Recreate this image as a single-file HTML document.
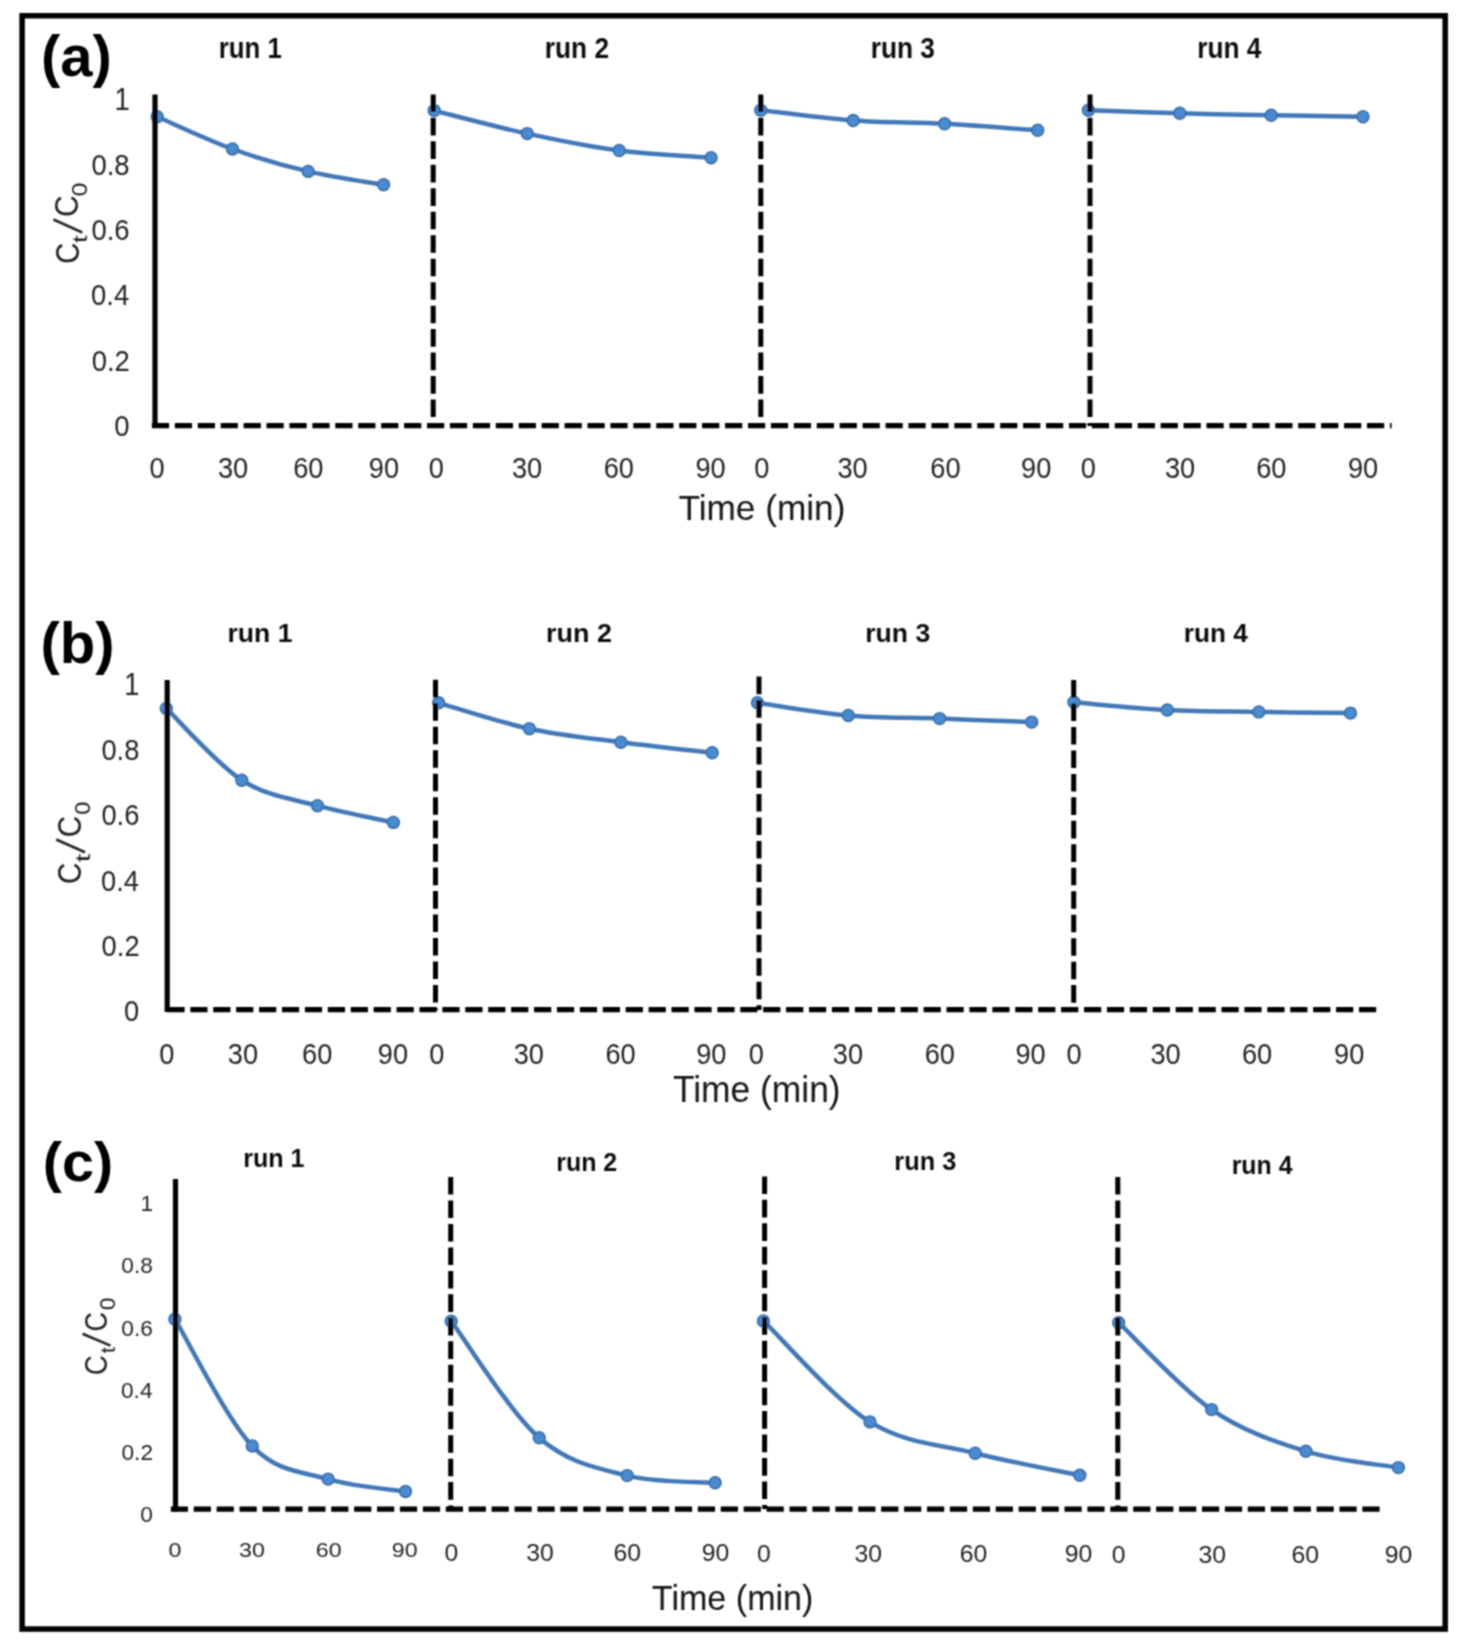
<!DOCTYPE html>
<html><head><meta charset="utf-8"><title>Figure</title>
<style>
html,body{margin:0;padding:0;background:#fff;}
svg{display:block;}
#w{width:1462px;height:1647px;}
text{font-family:"Liberation Sans", sans-serif;}
</style></head>
<body>
<div id="w">
<svg width="1462" height="1647" viewBox="0 0 1462 1647">
<defs><filter id="bl" x="0" y="0" width="1462" height="1647" filterUnits="userSpaceOnUse"><feConvolveMatrix order="3" kernelMatrix="1 2 1 2 4 2 1 2 1" divisor="16" edgeMode="duplicate" preserveAlpha="false"/></filter></defs>
<rect x="0" y="0" width="1462" height="1647" fill="#fff"/>
<g filter="url(#bl)">
<rect x="22.1" y="15.75" width="1423.1" height="1613.3" fill="none" stroke="#000" stroke-width="5.5"/>
<path d="M157.20,116.80 C169.75,122.17 207.33,139.90 232.50,149.00 C257.67,158.10 283.02,165.43 308.20,171.40 C333.38,177.37 371.03,182.57 383.60,184.80" fill="none" stroke="#4278b8" stroke-width="4.5" stroke-linecap="round" stroke-linejoin="round"/>
<circle cx="157.2" cy="116.8" r="5.9" fill="#4a8bd2" stroke="#3b6ea8" stroke-width="1.6"/>
<circle cx="232.5" cy="149" r="5.9" fill="#4a8bd2" stroke="#3b6ea8" stroke-width="1.6"/>
<circle cx="308.2" cy="171.4" r="5.9" fill="#4a8bd2" stroke="#3b6ea8" stroke-width="1.6"/>
<circle cx="383.6" cy="184.8" r="5.9" fill="#4a8bd2" stroke="#3b6ea8" stroke-width="1.6"/>
<path d="M434.20,110.60 C449.70,114.43 496.37,126.95 527.20,133.60 C558.03,140.25 588.55,146.48 619.20,150.50 C649.85,154.52 695.78,156.50 711.10,157.70" fill="none" stroke="#4278b8" stroke-width="4.5" stroke-linecap="round" stroke-linejoin="round"/>
<circle cx="434.2" cy="110.6" r="5.9" fill="#4a8bd2" stroke="#3b6ea8" stroke-width="1.6"/>
<circle cx="527.2" cy="133.6" r="5.9" fill="#4a8bd2" stroke="#3b6ea8" stroke-width="1.6"/>
<circle cx="619.2" cy="150.5" r="5.9" fill="#4a8bd2" stroke="#3b6ea8" stroke-width="1.6"/>
<circle cx="711.1" cy="157.7" r="5.9" fill="#4a8bd2" stroke="#3b6ea8" stroke-width="1.6"/>
<path d="M760.80,110.20 C776.20,111.92 822.57,118.23 853.20,120.50 C883.83,122.77 913.85,122.17 944.60,123.80 C975.35,125.43 1022.18,129.22 1037.70,130.30" fill="none" stroke="#4278b8" stroke-width="4.5" stroke-linecap="round" stroke-linejoin="round"/>
<circle cx="760.8" cy="110.2" r="5.9" fill="#4a8bd2" stroke="#3b6ea8" stroke-width="1.6"/>
<circle cx="853.2" cy="120.5" r="5.9" fill="#4a8bd2" stroke="#3b6ea8" stroke-width="1.6"/>
<circle cx="944.6" cy="123.8" r="5.9" fill="#4a8bd2" stroke="#3b6ea8" stroke-width="1.6"/>
<circle cx="1037.7" cy="130.3" r="5.9" fill="#4a8bd2" stroke="#3b6ea8" stroke-width="1.6"/>
<path d="M1088.40,110.20 C1103.63,110.72 1149.33,112.45 1179.80,113.30 C1210.27,114.15 1240.67,114.73 1271.20,115.30 C1301.73,115.87 1347.70,116.47 1363.00,116.70" fill="none" stroke="#4278b8" stroke-width="4.5" stroke-linecap="round" stroke-linejoin="round"/>
<circle cx="1088.4" cy="110.2" r="5.9" fill="#4a8bd2" stroke="#3b6ea8" stroke-width="1.6"/>
<circle cx="1179.8" cy="113.3" r="5.9" fill="#4a8bd2" stroke="#3b6ea8" stroke-width="1.6"/>
<circle cx="1271.2" cy="115.3" r="5.9" fill="#4a8bd2" stroke="#3b6ea8" stroke-width="1.6"/>
<circle cx="1363" cy="116.7" r="5.9" fill="#4a8bd2" stroke="#3b6ea8" stroke-width="1.6"/>
<line x1="155" y1="94.5" x2="155" y2="428" stroke="#000" stroke-width="5.2"/>
<line x1="151.9" y1="425.6" x2="1391.6" y2="425.6" stroke="#000" stroke-width="5.2" stroke-dasharray="17.2 5.726"/>
<line x1="433.2" y1="94.4" x2="433.2" y2="426" stroke="#000" stroke-width="5" stroke-dasharray="17.6 5.87"/>
<line x1="760.8" y1="94.4" x2="760.8" y2="426" stroke="#000" stroke-width="5" stroke-dasharray="17.6 5.87"/>
<line x1="1090" y1="94.4" x2="1090" y2="426" stroke="#000" stroke-width="5" stroke-dasharray="17.6 5.87"/>
<text font-size="100" font-weight="bold" fill="#000" transform="matrix(0.58085,0,0,0.56836,40.90,76.21)">(a)</text>
<text font-size="100" fill="#252525" transform="matrix(0.27500,0,0,0.30545,114.54,109.50)">1</text>
<text font-size="100" fill="#252525" transform="matrix(0.27500,0,0,0.29682,91.44,174.60)">0.8</text>
<text font-size="100" fill="#252525" transform="matrix(0.27500,0,0,0.29682,91.44,240.00)">0.6</text>
<text font-size="100" fill="#252525" transform="matrix(0.27500,0,0,0.29682,91.03,305.40)">0.4</text>
<text font-size="100" fill="#252525" transform="matrix(0.27500,0,0,0.29682,91.65,370.80)">0.2</text>
<text font-size="100" fill="#252525" transform="matrix(0.27500,0,0,0.29682,114.27,436.20)">0</text>
<text font-size="100" fill="#252525" transform="matrix(0.27200,0,0,0.29823,149.42,477.50)">0</text>
<text font-size="100" fill="#252525" transform="matrix(0.27200,0,0,0.29823,217.90,477.50)">30</text>
<text font-size="100" fill="#252525" transform="matrix(0.27200,0,0,0.29823,293.23,477.50)">60</text>
<text font-size="100" fill="#252525" transform="matrix(0.27200,0,0,0.29823,368.77,477.50)">90</text>
<text font-size="100" fill="#252525" transform="matrix(0.27200,0,0,0.29823,428.72,477.50)">0</text>
<text font-size="100" fill="#252525" transform="matrix(0.27200,0,0,0.29823,511.90,477.50)">30</text>
<text font-size="100" fill="#252525" transform="matrix(0.27200,0,0,0.29823,603.73,477.50)">60</text>
<text font-size="100" fill="#252525" transform="matrix(0.27200,0,0,0.29823,695.47,477.50)">90</text>
<text font-size="100" fill="#252525" transform="matrix(0.27200,0,0,0.29823,754.32,477.50)">0</text>
<text font-size="100" fill="#252525" transform="matrix(0.27200,0,0,0.29823,837.50,477.50)">30</text>
<text font-size="100" fill="#252525" transform="matrix(0.27200,0,0,0.29823,930.33,477.50)">60</text>
<text font-size="100" fill="#252525" transform="matrix(0.27200,0,0,0.29823,1021.07,477.50)">90</text>
<text font-size="100" fill="#252525" transform="matrix(0.27200,0,0,0.29823,1080.72,477.50)">0</text>
<text font-size="100" fill="#252525" transform="matrix(0.27200,0,0,0.29823,1164.90,477.50)">30</text>
<text font-size="100" fill="#252525" transform="matrix(0.27200,0,0,0.29823,1256.23,477.50)">60</text>
<text font-size="100" fill="#252525" transform="matrix(0.27200,0,0,0.29823,1347.97,477.50)">90</text>
<text font-size="100" font-weight="bold" fill="#111" transform="matrix(0.25802,0,0,0.28961,218.72,57.61)">run 1</text>
<text font-size="100" font-weight="bold" fill="#111" transform="matrix(0.26325,0,0,0.29117,544.69,57.61)">run 2</text>
<text font-size="100" font-weight="bold" fill="#111" transform="matrix(0.26269,0,0,0.29014,870.69,57.54)">run 3</text>
<text font-size="100" font-weight="bold" fill="#111" transform="matrix(0.26232,0,0,0.29247,1197.29,57.61)">run 4</text>
<text font-size="100" fill="#141414" transform="matrix(0.35252,0,0,0.35927,678.41,519.70)">Time (min)</text>
<text font-size="100" fill="#222" transform="matrix(0,-0.29091,0.33074,0,78.77,263.65)">C</text>
<text font-size="100" fill="#222" transform="matrix(0,-0.27451,0.20536,0,86.65,242.91)">t</text>
<text font-size="100" fill="#222" transform="matrix(0,-0.30040,0.32933,0,78.37,216.90)">C</text>
<text font-size="100" fill="#222" transform="matrix(0,-0.25131,0.21343,0,86.59,196.41)">0</text>
<line x1="53.5" y1="219.5" x2="82.3" y2="232.5" stroke="#252525" stroke-width="2.6"/>
<path d="M166.30,708.40 C178.88,720.37 216.60,763.98 241.80,780.20 C267.00,796.42 292.23,798.67 317.50,805.70 C342.77,812.73 380.75,819.62 393.40,822.40" fill="none" stroke="#4278b8" stroke-width="4.5" stroke-linecap="round" stroke-linejoin="round"/>
<circle cx="166.3" cy="708.4" r="5.9" fill="#4a8bd2" stroke="#3b6ea8" stroke-width="1.6"/>
<circle cx="241.8" cy="780.2" r="5.9" fill="#4a8bd2" stroke="#3b6ea8" stroke-width="1.6"/>
<circle cx="317.5" cy="805.7" r="5.9" fill="#4a8bd2" stroke="#3b6ea8" stroke-width="1.6"/>
<circle cx="393.4" cy="822.4" r="5.9" fill="#4a8bd2" stroke="#3b6ea8" stroke-width="1.6"/>
<path d="M438.60,702.80 C453.73,707.12 499.02,722.13 529.40,728.70 C559.78,735.27 590.43,738.20 620.90,742.20 C651.37,746.20 696.98,750.95 712.20,752.70" fill="none" stroke="#4278b8" stroke-width="4.5" stroke-linecap="round" stroke-linejoin="round"/>
<circle cx="438.6" cy="702.8" r="5.9" fill="#4a8bd2" stroke="#3b6ea8" stroke-width="1.6"/>
<circle cx="529.4" cy="728.7" r="5.9" fill="#4a8bd2" stroke="#3b6ea8" stroke-width="1.6"/>
<circle cx="620.9" cy="742.2" r="5.9" fill="#4a8bd2" stroke="#3b6ea8" stroke-width="1.6"/>
<circle cx="712.2" cy="752.7" r="5.9" fill="#4a8bd2" stroke="#3b6ea8" stroke-width="1.6"/>
<path d="M757.50,702.80 C772.63,704.92 817.95,712.87 848.30,715.50 C878.65,718.13 909.03,717.50 939.60,718.60 C970.17,719.70 1016.35,721.52 1031.70,722.10" fill="none" stroke="#4278b8" stroke-width="4.5" stroke-linecap="round" stroke-linejoin="round"/>
<circle cx="757.5" cy="702.8" r="5.9" fill="#4a8bd2" stroke="#3b6ea8" stroke-width="1.6"/>
<circle cx="848.3" cy="715.5" r="5.9" fill="#4a8bd2" stroke="#3b6ea8" stroke-width="1.6"/>
<circle cx="939.6" cy="718.6" r="5.9" fill="#4a8bd2" stroke="#3b6ea8" stroke-width="1.6"/>
<circle cx="1031.7" cy="722.1" r="5.9" fill="#4a8bd2" stroke="#3b6ea8" stroke-width="1.6"/>
<path d="M1073.90,702.30 C1089.47,703.58 1136.48,708.40 1167.30,710.00 C1198.12,711.60 1228.27,711.38 1258.80,711.90 C1289.33,712.42 1335.22,712.90 1350.50,713.10" fill="none" stroke="#4278b8" stroke-width="4.5" stroke-linecap="round" stroke-linejoin="round"/>
<circle cx="1073.9" cy="702.3" r="5.9" fill="#4a8bd2" stroke="#3b6ea8" stroke-width="1.6"/>
<circle cx="1167.3" cy="710" r="5.9" fill="#4a8bd2" stroke="#3b6ea8" stroke-width="1.6"/>
<circle cx="1258.8" cy="711.9" r="5.9" fill="#4a8bd2" stroke="#3b6ea8" stroke-width="1.6"/>
<circle cx="1350.5" cy="713.1" r="5.9" fill="#4a8bd2" stroke="#3b6ea8" stroke-width="1.6"/>
<line x1="167.2" y1="680.1" x2="167.2" y2="1012" stroke="#000" stroke-width="5.2"/>
<line x1="167.4" y1="1009.6" x2="1376.4" y2="1009.6" stroke="#000" stroke-width="5.2" stroke-dasharray="17.2 5.715"/>
<line x1="435.5" y1="679.8" x2="435.5" y2="1010" stroke="#000" stroke-width="5" stroke-dasharray="17.6 5.87"/>
<line x1="759" y1="676.6" x2="759" y2="1010" stroke="#000" stroke-width="5" stroke-dasharray="17.6 5.87"/>
<line x1="1073.7" y1="680" x2="1073.7" y2="1010" stroke="#000" stroke-width="5" stroke-dasharray="17.6 5.87"/>
<text font-size="100" font-weight="bold" fill="#000" transform="matrix(0.58089,0,0,0.57158,40.40,663.34)">(b)</text>
<text font-size="100" fill="#252525" transform="matrix(0.27300,0,0,0.30545,124.35,694.90)">1</text>
<text font-size="100" fill="#252525" transform="matrix(0.27300,0,0,0.29682,101.41,759.96)">0.8</text>
<text font-size="100" fill="#252525" transform="matrix(0.27300,0,0,0.29682,101.41,825.32)">0.6</text>
<text font-size="100" fill="#252525" transform="matrix(0.27300,0,0,0.29682,101.00,890.68)">0.4</text>
<text font-size="100" fill="#252525" transform="matrix(0.27300,0,0,0.29682,101.62,956.04)">0.2</text>
<text font-size="100" fill="#252525" transform="matrix(0.27300,0,0,0.29682,124.07,1021.40)">0</text>
<text font-size="100" fill="#252525" transform="matrix(0.27200,0,0,0.29399,159.22,1063.91)">0</text>
<text font-size="100" fill="#252525" transform="matrix(0.27200,0,0,0.29399,227.80,1063.91)">30</text>
<text font-size="100" fill="#252525" transform="matrix(0.27200,0,0,0.29399,302.03,1063.91)">60</text>
<text font-size="100" fill="#252525" transform="matrix(0.27200,0,0,0.29399,377.77,1063.91)">90</text>
<text font-size="100" fill="#252525" transform="matrix(0.27200,0,0,0.29399,429.22,1063.91)">0</text>
<text font-size="100" fill="#252525" transform="matrix(0.27200,0,0,0.29399,513.70,1063.91)">30</text>
<text font-size="100" fill="#252525" transform="matrix(0.27200,0,0,0.29399,605.43,1063.91)">60</text>
<text font-size="100" fill="#252525" transform="matrix(0.27200,0,0,0.29399,696.17,1063.91)">90</text>
<text font-size="100" fill="#252525" transform="matrix(0.27200,0,0,0.29399,748.72,1063.91)">0</text>
<text font-size="100" fill="#252525" transform="matrix(0.27200,0,0,0.29399,832.80,1063.91)">30</text>
<text font-size="100" fill="#252525" transform="matrix(0.27200,0,0,0.29399,924.73,1063.91)">60</text>
<text font-size="100" fill="#252525" transform="matrix(0.27200,0,0,0.29399,1015.47,1063.91)">90</text>
<text font-size="100" fill="#252525" transform="matrix(0.27200,0,0,0.29399,1066.42,1063.91)">0</text>
<text font-size="100" fill="#252525" transform="matrix(0.27200,0,0,0.29399,1150.50,1063.91)">30</text>
<text font-size="100" fill="#252525" transform="matrix(0.27200,0,0,0.29399,1241.93,1063.91)">60</text>
<text font-size="100" fill="#252525" transform="matrix(0.27200,0,0,0.29399,1334.07,1063.91)">90</text>
<text font-size="100" font-weight="bold" fill="#111" transform="matrix(0.26567,0,0,0.26380,227.47,642.04)">run 1</text>
<text font-size="100" font-weight="bold" fill="#111" transform="matrix(0.26966,0,0,0.26007,546.05,642.04)">run 2</text>
<text font-size="100" font-weight="bold" fill="#111" transform="matrix(0.26652,0,0,0.25915,865.17,641.98)">run 3</text>
<text font-size="100" font-weight="bold" fill="#111" transform="matrix(0.26189,0,0,0.26380,1183.80,642.04)">run 4</text>
<text font-size="100" fill="#141414" transform="matrix(0.35403,0,0,0.36218,672.90,1102.20)">Time (min)</text>
<text font-size="100" fill="#222" transform="matrix(0,-0.29565,0.33074,0,81.47,883.98)">C</text>
<text font-size="100" fill="#222" transform="matrix(0,-0.30196,0.20996,0,89.64,862.25)">t</text>
<text font-size="100" fill="#222" transform="matrix(0,-0.29565,0.33074,0,81.47,837.28)">C</text>
<text font-size="100" fill="#222" transform="matrix(0,-0.23665,0.22191,0,89.88,814.65)">0</text>
<line x1="56.2" y1="839.5" x2="85" y2="852.3" stroke="#252525" stroke-width="2.6"/>
<path d="M174.90,1319.20 C187.80,1340.33 226.75,1419.35 252.30,1446.00 C277.85,1472.65 302.67,1471.52 328.20,1479.10 C353.73,1486.68 392.62,1489.43 405.50,1491.50" fill="none" stroke="#4278b8" stroke-width="4.5" stroke-linecap="round" stroke-linejoin="round"/>
<circle cx="174.9" cy="1319.2" r="5.9" fill="#4a8bd2" stroke="#3b6ea8" stroke-width="1.6"/>
<circle cx="252.3" cy="1446" r="5.9" fill="#4a8bd2" stroke="#3b6ea8" stroke-width="1.6"/>
<circle cx="328.2" cy="1479.1" r="5.9" fill="#4a8bd2" stroke="#3b6ea8" stroke-width="1.6"/>
<circle cx="405.5" cy="1491.5" r="5.9" fill="#4a8bd2" stroke="#3b6ea8" stroke-width="1.6"/>
<path d="M451.20,1321.20 C465.87,1340.63 509.87,1412.07 539.20,1437.80 C568.53,1463.53 597.87,1468.10 627.20,1475.60 C656.53,1483.10 700.53,1481.60 715.20,1482.80" fill="none" stroke="#4278b8" stroke-width="4.5" stroke-linecap="round" stroke-linejoin="round"/>
<circle cx="451.2" cy="1321.2" r="5.9" fill="#4a8bd2" stroke="#3b6ea8" stroke-width="1.6"/>
<circle cx="539.2" cy="1437.8" r="5.9" fill="#4a8bd2" stroke="#3b6ea8" stroke-width="1.6"/>
<circle cx="627.2" cy="1475.6" r="5.9" fill="#4a8bd2" stroke="#3b6ea8" stroke-width="1.6"/>
<circle cx="715.2" cy="1482.8" r="5.9" fill="#4a8bd2" stroke="#3b6ea8" stroke-width="1.6"/>
<path d="M763.40,1320.90 C781.17,1337.73 834.70,1399.85 870.00,1421.90 C905.30,1443.95 940.23,1444.30 975.20,1453.20 C1010.17,1462.10 1062.37,1471.62 1079.80,1475.30" fill="none" stroke="#4278b8" stroke-width="4.5" stroke-linecap="round" stroke-linejoin="round"/>
<circle cx="763.4" cy="1320.9" r="5.9" fill="#4a8bd2" stroke="#3b6ea8" stroke-width="1.6"/>
<circle cx="870" cy="1421.9" r="5.9" fill="#4a8bd2" stroke="#3b6ea8" stroke-width="1.6"/>
<circle cx="975.2" cy="1453.2" r="5.9" fill="#4a8bd2" stroke="#3b6ea8" stroke-width="1.6"/>
<circle cx="1079.8" cy="1475.3" r="5.9" fill="#4a8bd2" stroke="#3b6ea8" stroke-width="1.6"/>
<path d="M1118.70,1322.70 C1134.18,1337.18 1180.40,1388.17 1211.60,1409.60 C1242.80,1431.03 1274.77,1441.63 1305.90,1451.30 C1337.03,1460.97 1382.98,1464.88 1398.40,1467.60" fill="none" stroke="#4278b8" stroke-width="4.5" stroke-linecap="round" stroke-linejoin="round"/>
<circle cx="1118.7" cy="1322.7" r="5.9" fill="#4a8bd2" stroke="#3b6ea8" stroke-width="1.6"/>
<circle cx="1211.6" cy="1409.6" r="5.9" fill="#4a8bd2" stroke="#3b6ea8" stroke-width="1.6"/>
<circle cx="1305.9" cy="1451.3" r="5.9" fill="#4a8bd2" stroke="#3b6ea8" stroke-width="1.6"/>
<circle cx="1398.4" cy="1467.6" r="5.9" fill="#4a8bd2" stroke="#3b6ea8" stroke-width="1.6"/>
<line x1="175.5" y1="1179" x2="175.5" y2="1511.5" stroke="#000" stroke-width="5.2"/>
<line x1="170.8" y1="1509.2" x2="1379.8" y2="1509.2" stroke="#000" stroke-width="5.2" stroke-dasharray="17.2 5.715"/>
<line x1="450.7" y1="1177" x2="450.7" y2="1509" stroke="#000" stroke-width="5" stroke-dasharray="17.6 5.87"/>
<line x1="764.6" y1="1176.4" x2="764.6" y2="1509" stroke="#000" stroke-width="5" stroke-dasharray="17.6 5.87"/>
<line x1="1117.8" y1="1177" x2="1117.8" y2="1509" stroke="#000" stroke-width="5" stroke-dasharray="17.6 5.87"/>
<text font-size="100" font-weight="bold" fill="#000" transform="matrix(0.57639,0,0,0.56408,42.72,1180.50)">(c)</text>
<text font-size="100" fill="#252525" transform="matrix(0.22700,0,0,0.22982,140.38,1211.30)">1</text>
<text font-size="100" fill="#252525" transform="matrix(0.22700,0,0,0.22332,121.31,1273.34)">0.8</text>
<text font-size="100" fill="#252525" transform="matrix(0.22700,0,0,0.22332,121.31,1335.60)">0.6</text>
<text font-size="100" fill="#252525" transform="matrix(0.22700,0,0,0.22332,120.97,1397.86)">0.4</text>
<text font-size="100" fill="#252525" transform="matrix(0.22700,0,0,0.22332,121.48,1460.12)">0.2</text>
<text font-size="100" fill="#252525" transform="matrix(0.22700,0,0,0.22332,140.15,1522.38)">0</text>
<text font-size="100" fill="#252525" transform="matrix(0.23200,0,0,0.20919,168.53,1556.59)">0</text>
<text font-size="100" fill="#252525" transform="matrix(0.23200,0,0,0.20919,239.12,1556.59)">30</text>
<text font-size="100" fill="#252525" transform="matrix(0.23200,0,0,0.20919,315.78,1556.59)">60</text>
<text font-size="100" fill="#252525" transform="matrix(0.23200,0,0,0.20919,391.81,1556.59)">90</text>
<text font-size="100" fill="#252525" transform="matrix(0.24800,0,0,0.24735,444.39,1561.45)">0</text>
<text font-size="100" fill="#252525" transform="matrix(0.24800,0,0,0.24735,526.14,1561.45)">30</text>
<text font-size="100" fill="#252525" transform="matrix(0.24800,0,0,0.24735,613.48,1561.45)">60</text>
<text font-size="100" fill="#252525" transform="matrix(0.24800,0,0,0.24735,701.81,1561.45)">90</text>
<text font-size="100" fill="#252525" transform="matrix(0.24800,0,0,0.24735,757.09,1561.75)">0</text>
<text font-size="100" fill="#252525" transform="matrix(0.24800,0,0,0.24735,854.54,1561.75)">30</text>
<text font-size="100" fill="#252525" transform="matrix(0.24800,0,0,0.24735,959.68,1561.75)">60</text>
<text font-size="100" fill="#252525" transform="matrix(0.24800,0,0,0.24735,1064.81,1561.75)">90</text>
<text font-size="100" fill="#252525" transform="matrix(0.24800,0,0,0.24735,1111.79,1562.55)">0</text>
<text font-size="100" fill="#252525" transform="matrix(0.24800,0,0,0.24735,1198.44,1562.55)">30</text>
<text font-size="100" fill="#252525" transform="matrix(0.24800,0,0,0.24735,1291.48,1562.55)">60</text>
<text font-size="100" fill="#252525" transform="matrix(0.24800,0,0,0.24735,1384.81,1562.55)">90</text>
<text font-size="100" font-weight="bold" fill="#111" transform="matrix(0.25122,0,0,0.25663,243.17,1166.84)">run 1</text>
<text font-size="100" font-weight="bold" fill="#111" transform="matrix(0.25000,0,0,0.25300,556.17,1171.15)">run 2</text>
<text font-size="100" font-weight="bold" fill="#111" transform="matrix(0.25330,0,0,0.25211,894.35,1170.48)">run 3</text>
<text font-size="100" font-weight="bold" fill="#111" transform="matrix(0.24884,0,0,0.25663,1231.68,1173.64)">run 4</text>
<text font-size="100" fill="#141414" transform="matrix(0.34092,0,0,0.34909,651.83,1610.40)">Time (min)</text>
<text font-size="100" fill="#222" transform="matrix(0,-0.27826,0.31237,0,106.99,1375.19)">C</text>
<text font-size="100" fill="#222" transform="matrix(0,-0.22353,0.20383,0,115.05,1353.14)">t</text>
<text font-size="100" fill="#222" transform="matrix(0,-0.26877,0.31237,0,106.99,1331.44)">C</text>
<text font-size="100" fill="#222" transform="matrix(0,-0.22827,0.22191,0,115.28,1310.31)">0</text>
<line x1="82.5" y1="1333.8" x2="110.5" y2="1345.6" stroke="#252525" stroke-width="2.6"/>
</g>
</svg>
</div>
</body></html>
